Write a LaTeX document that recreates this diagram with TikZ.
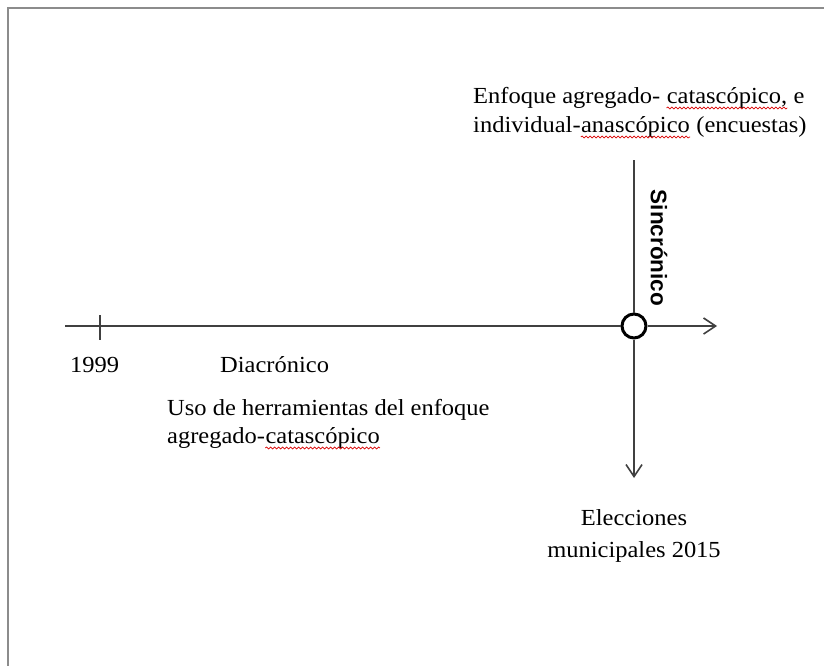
\documentclass[tikz,border=0pt]{standalone}
\usepackage{fontspec}
\setmainfont{Liberation Serif}[FakeStretch=1.065]
\newfontfamily\sansbold{Liberation Sans}
\usetikzlibrary{arrows.meta,decorations.pathmorphing}
\tikzset{
  lbl/.style={anchor=base west, inner sep=0pt, font=\fontsize{23}{29}\selectfont},
  clbl/.style={anchor=base, inner sep=0pt, font=\fontsize{23}{29}\selectfont},
  axis/.style={draw=black!75, line width=1.6pt},
  tip/.style={-{Straight Barb[length=12pt,width=16pt,line width=1.6pt]}},
  frame/.style={draw=black!45, line width=2.4pt},
  origin/.style={circle, draw=black, line width=3pt, minimum size=24pt, inner sep=0pt, fill=white},
  wave/.style={draw=red!85!black, line width=0.7pt, decorate, decoration={snake, amplitude=1pt, segment length=4pt}}
}
\begin{document}
\begin{tikzpicture}[x=1pt,y=-1pt]
\useasboundingbox (0,0) rectangle (824,666);
% frame
\coordinate (fb) at (8,667);
\coordinate (fc) at (8,8);
\coordinate (fr) at (825,8);
\draw[frame] (fb) -- (fc) -- (fr);
% axes
\coordinate (hl) at (65,326);
\coordinate (hr) at (717,326);
\coordinate (vt) at (634,160);
\coordinate (vb) at (634,478);
\coordinate (tk1) at (100,315);
\coordinate (tk2) at (100,340);
\node[origin] (o) at (634,326) {};
\draw[axis] (hl) -- (o);
\draw[axis,tip] (o) -- (hr);
\draw[axis] (vt) -- (o);
\draw[axis,tip] (o) -- (vb);
\draw[axis] (tk1) -- (tk2);
% labels
\node[lbl] (t1a) at (473,103) {Enfoque agregado- \mbox{}};
\node[lbl] (t1b) at (t1a.base east) {catascópico,};
\node[lbl] (t1c) at (t1b.base east) {\mbox{} e};
\node[lbl] (t2a) at (473,132) {individual-};
\node[lbl] (t2b) at (t2a.base east) {anascópico};
\node[lbl] (t2c) at (t2b.base east) {\mbox{} (encuestas)};
\node[rotate=-90, inner sep=0pt, font=\sansbold\bfseries\fontsize{22.5}{27}\selectfont] (s) at (659,248) {Sincrónico};
\node[lbl] (y1) at (70,372) {1999};
\node[lbl] (d) at (220,372) {Diacrónico};
\node[lbl] (u1) at (167,415) {Uso de herramientas del enfoque};
\node[lbl] (u2a) at (167,443) {agregado-};
\node[lbl] (u2b) at (u2a.base east) {catascópico};
\node[clbl] (e1) at (634,525) {Elecciones};
\node[clbl] (e2) at (634,557) {municipales 2015};
% spell-check marks
\draw[wave] ([yshift=-5pt]t1b.base west) -- ([yshift=-5pt]t1b.base east);
\draw[wave] ([yshift=-5pt]t2b.base west) -- ([yshift=-5pt]t2b.base east);
\draw[wave] ([yshift=-5pt]u2b.base west) -- ([yshift=-5pt]u2b.base east);
\end{tikzpicture}
\end{document}
